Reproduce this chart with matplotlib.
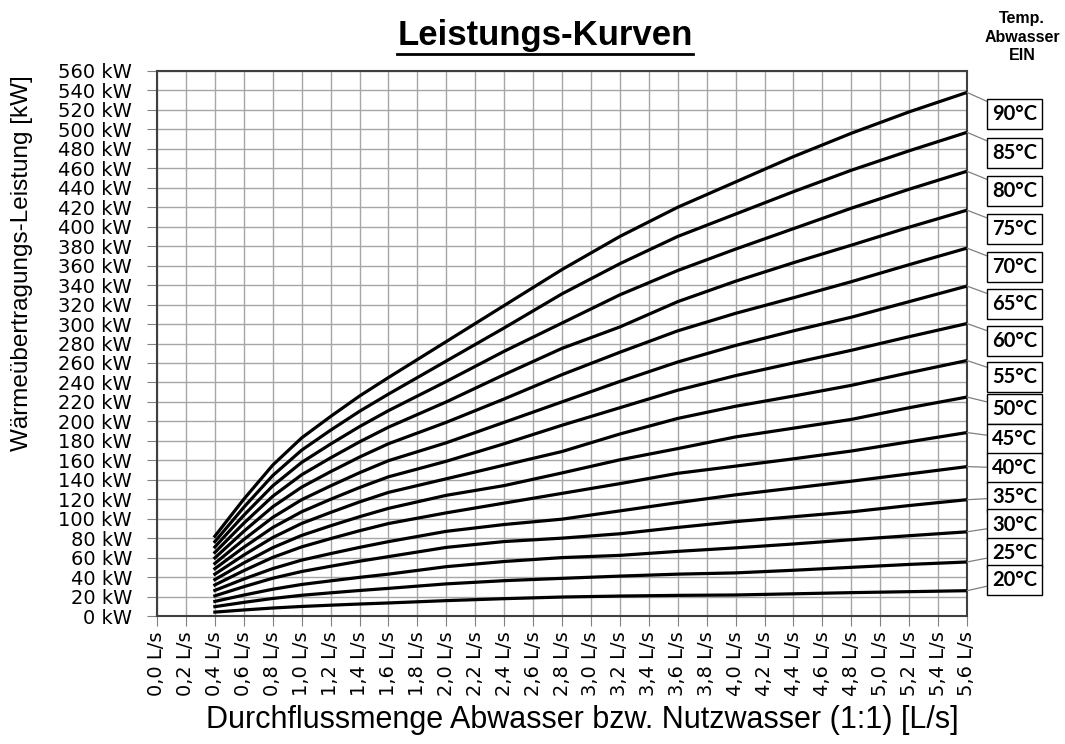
import matplotlib
matplotlib.use("Agg")
import matplotlib.pyplot as plt
from matplotlib.lines import Line2D
from matplotlib.ticker import MultipleLocator, FuncFormatter

# flow rate [L/s] and transferred power [kW] per inlet temperature
flow = [0.4, 0.6, 0.8, 1.0, 1.2, 1.4, 1.6, 2.0, 2.4, 2.8, 3.2, 3.6, 4.0, 4.4, 4.8, 5.2, 5.6]

p20 = [4, 6.2, 8.2, 9.8, 11.1, 12.3, 13.4, 15.8, 17.8, 19.5, 20.5, 21.2, 21.6, 22.8, 24, 25, 26]
p25 = [9.6, 14, 18, 21.3, 23.8, 26.2, 28.4, 33, 36.3, 38.7, 41, 43, 44.3, 47, 50, 53, 55.5]
p30 = [15, 21.5, 27.5, 32.4, 36.1, 39.7, 43, 50.7, 56, 60, 62.3, 66.4, 70, 74, 78.4, 82.5, 86.5]
p35 = [20.7, 30.1, 38.8, 45.7, 51.1, 56.3, 61, 70.5, 76.5, 80, 84.5, 91, 97, 102, 107, 113.5, 119.5]
p40 = [26.3, 38, 48.7, 57.4, 64.1, 70.5, 76.4, 87, 94, 99.5, 108, 116.5, 124.5, 131.5, 138.5, 146, 153.5]
p45 = [31.9, 46.6, 60.2, 71, 79.5, 87.6, 95, 106, 116, 126, 136, 146.6, 154, 161.5, 169.5, 179, 188.5]
p50 = [37.4, 54.5, 70.2, 82.8, 92.7, 102, 110.6, 124, 134, 147, 160.5, 172, 184, 193, 202, 214, 225]
p55 = [43, 62.6, 80.6, 95.1, 106.4, 117.2, 127, 141, 155, 169, 187, 203, 215.5, 226, 237, 250, 262.5]
p60 = [48.6, 70.6, 90.9, 107.1, 119.9, 132, 143, 159, 177, 196, 214, 232, 247, 260, 273, 287, 300.5]
p65 = [54, 78.6, 101.3, 119.5, 133.7, 147.2, 159.6, 178, 199, 220, 241, 261, 278, 293, 307, 323, 339]
p70 = [59.7, 87, 112.2, 132.4, 148.3, 163.3, 177, 199, 223, 248, 271, 293, 311, 327, 343.5, 361, 378]
p75 = [65.3, 95.3, 123, 145.1, 162.5, 178.9, 194, 220, 248, 275, 297, 323, 344, 363, 381, 399.5, 417]
p80 = [70.9, 103.5, 133.7, 157.8, 176.7, 194.6, 211, 241, 272, 301, 330, 355, 377, 398, 419, 438.5, 457]
p85 = [76.4, 111.7, 144.3, 170.4, 190.9, 210.3, 228, 262, 296, 331, 362, 390, 413, 436, 458, 478, 497]
p90 = [82, 120, 155, 183, 205, 226, 245, 282, 319, 356, 390, 420, 446, 472, 496, 518, 538]

temps = ["90°C", "85°C", "80°C", "75°C", "70°C", "65°C", "60°C", "55°C",
         "50°C", "45°C", "40°C", "35°C", "30°C", "25°C", "20°C"]
curves = [p90, p85, p80, p75, p70, p65, p60, p55, p50, p45, p40, p35, p30, p25, p20]

# where the boxed labels sit (kW height on the right side)
label_y = [516, 476, 437, 398, 359, 321, 283, 246, 213, 182, 152, 122, 94, 65, 37]
label_x = 5.93

fig = plt.figure(figsize=(10.65, 7.44), dpi=100)
ax = fig.add_axes([157 / 1065, 1 - 616 / 744, 810 / 1065, 545 / 744])

for name, p, ly in zip(temps, curves, label_y):
    ax.plot(flow, p, color="black", linewidth=2.3, solid_joinstyle="round", zorder=3)
    ax.annotate(name, xy=(flow[-1], p[-1]), xytext=(label_x, ly),
                ha="center", va="center", fontsize=14.5, fontweight="bold",
                family=["Lato", "DejaVu Sans"], annotation_clip=False,
                bbox=dict(boxstyle="square,pad=0.25", fc="white", ec="black", lw=1.0),
                arrowprops=dict(arrowstyle="-", color="#7f7f7f", lw=0.9,
                                shrinkA=0, shrinkB=0))

ax.set_xlim(0, 5.6)
ax.set_ylim(0, 560)
ax.xaxis.set_major_locator(MultipleLocator(0.2))
ax.yaxis.set_major_locator(MultipleLocator(20))
ax.xaxis.set_major_formatter(FuncFormatter(lambda v, _: f"{v:.1f}".replace(".", ",") + " L/s"))
ax.yaxis.set_major_formatter(FuncFormatter(lambda v, _: f"{v:.0f} kW"))
ax.grid(True, color="#a6a6a6", linewidth=1.0, zorder=0)
ax.set_axisbelow(True)

ax.tick_params(axis="both", direction="out", length=7, color="#808080", labelsize=14)
ax.tick_params(axis="y", pad=11)
ax.tick_params(axis="x", pad=4, labelrotation=90)
for s in ax.spines.values():
    s.set_color("#404040")
    s.set_linewidth(1.5)

label_font = ["Liberation Sans", "DejaVu Sans"]
fig.text(582 / 1065, 1 - 720 / 744, "Durchflussmenge Abwasser bzw. Nutzwasser (1:1) [L/s]",
         ha="center", va="center", fontsize=22, family=label_font)
fig.text(22 / 1065, 1 - 263 / 744, "Wärmeübertragungs-Leistung [kW]", rotation=90,
         ha="center", va="center", fontsize=17.5, family=label_font)

title = fig.text(545 / 1065, 1 - 36 / 744, "Leistungs-Kurven", ha="center", va="center",
                 fontsize=25, fontweight="bold", family=["Liberation Sans", "DejaVu Sans"])
fig.text(1022 / 1065, 1 - 37 / 744, "Temp.\nAbwasser\nEIN", ha="center", va="center",
         fontsize=11.5, fontweight="bold", linespacing=1.3, family=["Liberation Sans", "DejaVu Sans"])

# underline the title
fig.canvas.draw()
bb = title.get_window_extent().transformed(fig.transFigure.inverted())
fig.add_artist(Line2D([bb.x0, bb.x1], [bb.y0 - 0.002, bb.y0 - 0.002],
                      transform=fig.transFigure, color="black", linewidth=2))

fig.savefig("out.png", dpi=100)
